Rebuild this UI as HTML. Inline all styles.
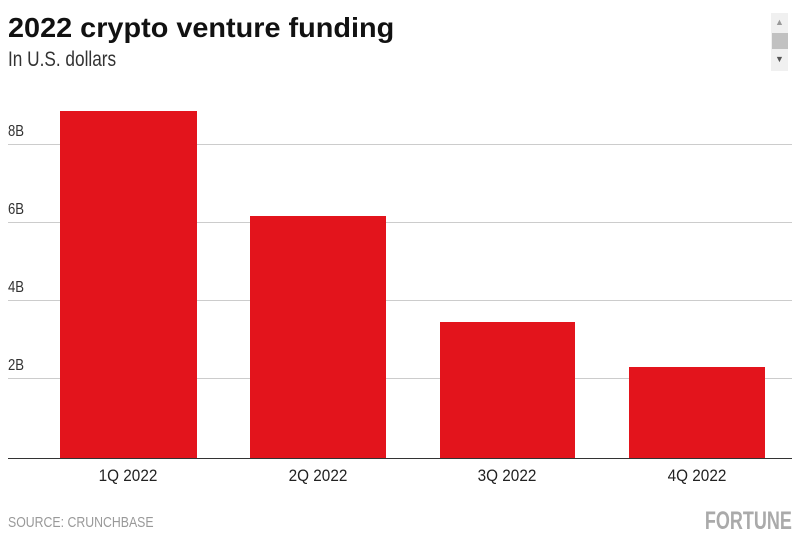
<!DOCTYPE html>
<html><head><meta charset="utf-8"><style>
body{margin:0;width:800px;height:550px;background:#fff;overflow:hidden;font-family:"Liberation Sans",sans-serif;}
.a{position:absolute}
.t{left:8px;top:12px;font-weight:bold;font-size:28px;color:#111;transform:scaleX(1.03);transform-origin:left top;white-space:nowrap}
.s{left:8px;top:48px;font-size:21px;color:#333;transform:scaleX(0.82);transform-origin:left top;white-space:nowrap}
.g{left:8px;width:784px;height:1px;background:#ccc}
.y{left:8px;font-size:16px;color:#333;transform:scaleX(0.82);transform-origin:left top}
.b{background:#e3141c}
.x{font-size:17px;color:#222;width:140px;text-align:center;top:466px;transform:scaleX(0.9)}
</style></head><body>
<div class="a t">2022 crypto venture funding</div>
<div class="a s">In U.S. dollars</div>
<div class="a" style="left:771px;top:13px;width:17px;height:58px;background:#f0f0f0"></div>
<div class="a" style="left:772px;top:33px;width:16px;height:16px;background:#c1c1c1"></div>
<div class="a" style="left:775px;top:17px;font-size:9px;color:#999">▲</div>
<div class="a" style="left:775px;top:54px;font-size:9px;color:#555">▼</div>
<div class="a g" style="top:144px"></div>
<div class="a g" style="top:222px"></div>
<div class="a g" style="top:300px"></div>
<div class="a g" style="top:378px"></div>
<div class="a y" style="top:123px">8B</div>
<div class="a y" style="top:201px">6B</div>
<div class="a y" style="top:279px">4B</div>
<div class="a y" style="top:357px">2B</div>
<div class="a b" style="left:60px;top:111px;width:137px;height:347px"></div>
<div class="a b" style="left:250px;top:216px;width:136px;height:242px"></div>
<div class="a b" style="left:440px;top:322px;width:135px;height:136px"></div>
<div class="a b" style="left:629px;top:367px;width:136px;height:91px"></div>
<div class="a" style="left:8px;top:458px;width:784px;height:1px;background:#333"></div>
<div class="a x" style="left:58px">1Q 2022</div>
<div class="a x" style="left:248px">2Q 2022</div>
<div class="a x" style="left:437px">3Q 2022</div>
<div class="a x" style="left:627px">4Q 2022</div>
<div class="a" style="left:8px;top:514px;font-size:15px;color:#999;transform:scaleX(0.82);transform-origin:left top;white-space:nowrap">SOURCE: CRUNCHBASE</div>
<div class="a" style="right:8px;top:507px;font-size:25px;font-weight:bold;color:#aaa;transform:scaleX(0.72);transform-origin:right top">FORTUNE</div>
</body></html>
